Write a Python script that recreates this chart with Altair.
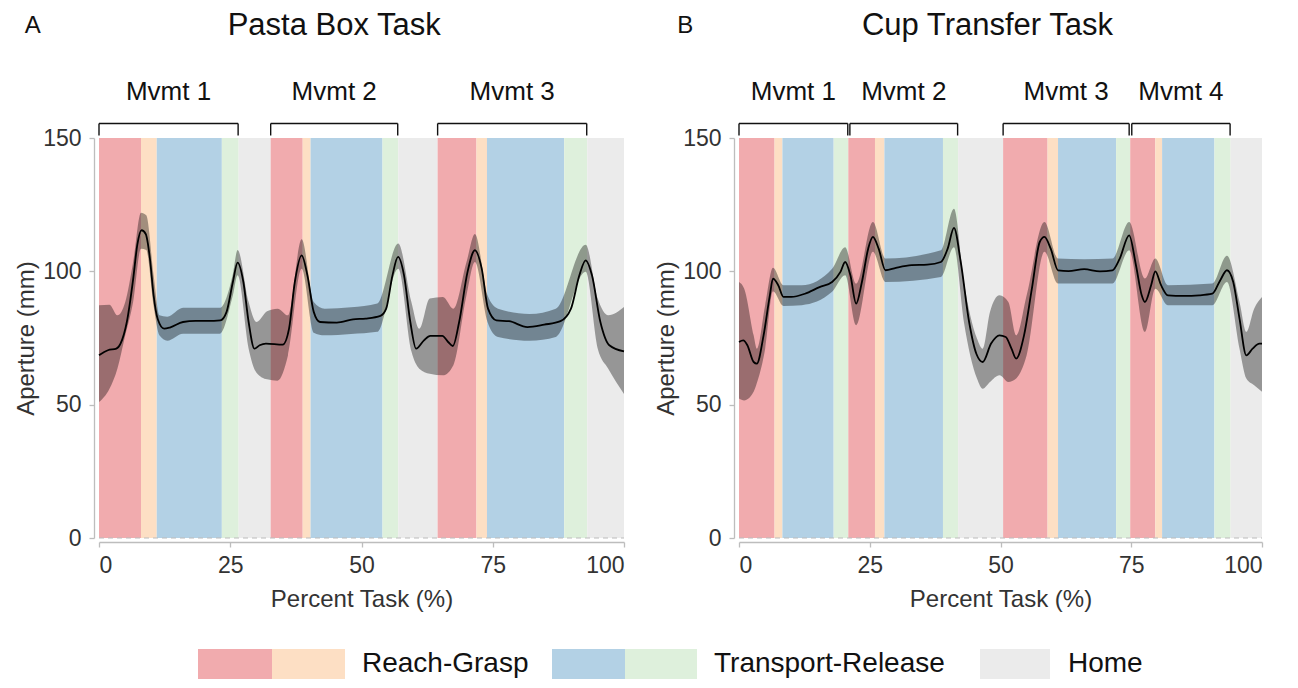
import altair as alt
import pandas as pd

# ---------------- data ----------------
PHASES = ["Reach", "Grasp", "Transport", "Release", "Home"]
PHASE_COLORS = ["#F1ABAE", "#FDDFC4", "#B3D1E5", "#DEF0DC", "#EBEBEB"]

# Panel A : Pasta Box Task
A_starts = [0, 8.0, 11.0, 23.4, 26.6, 32.7, 38.8, 40.3, 54.0, 57.0, 64.5, 71.9, 73.9, 88.6, 93.0]
A_types = ["Reach", "Grasp", "Transport", "Release", "Home",
           "Reach", "Grasp", "Transport", "Release", "Home",
           "Reach", "Grasp", "Transport", "Release", "Home"]
A_br_start = [0, 32.7, 64.5]
A_br_end = [26.5, 56.9, 92.9]
A_mvmt = ["Mvmt 1", "Mvmt 2", "Mvmt 3"]

A_mean_x = [0, 1.7, 3.3, 4.1, 5.3, 6.5, 7.3, 8.1, 8.9, 9.7, 10.4, 11.2, 12.4, 13.6, 16, 18.4, 20.7, 23.1,
            24.3, 25.5, 26.4, 27.5, 28.5, 29.6, 30.6, 31.8, 35, 36.2, 37.3, 38.6, 39.7, 40.9, 42.1, 45.3,
            48.4, 50.8, 53.6, 54.7, 55.9, 56.96, 58.1, 59.3, 60.4, 61.9, 63.1, 65.4, 66.5, 67.4, 68.6, 70.2,
            71.6, 72.9, 74.1, 75.7, 78.1, 81.6, 84.8, 87.9, 89.9, 91.5, 92.7, 93.9, 95.5, 97.2, 100]
A_mean_y = [68.5, 70.4, 71, 72.9, 81, 97, 110, 115.4, 114, 104.8, 91, 82, 78.5, 79, 81, 81.4, 81.4, 81.6,
            84.8, 96, 103.3, 96, 81, 71, 72.3, 72.9, 72.5, 78.5, 96, 106, 98.5, 84.8, 81, 80.8,
            82, 82.3, 83.3, 86, 98.5, 105.4, 98.5, 81, 71, 74.1, 75.8, 75.8, 73.5, 72, 81, 99.8,
            107.9, 101, 86, 81.6, 81.3, 79.1, 80, 81.3, 86, 98.5, 104.1, 98.5, 81, 72.3, 70]
A_band_x = [0, 2, 3.5, 5, 6.5, 8, 9, 10.4, 11.5, 13, 16, 20, 23, 25.5, 26.4, 28.5, 30, 32, 34, 36,
            38.6, 40.9, 43, 48, 53, 57, 59.5, 61, 63, 65.5, 67.5, 70, 71.6, 74, 76, 82, 87, 92.7, 95, 97, 100]
A_band_hi = [87.3, 87.5, 83.5, 88.5, 103.5, 122, 121, 98.5, 83.5, 83, 86.3, 86.3, 86.3, 99, 108, 88.5, 81, 85, 86, 83.5,
             112, 88.5, 86, 86.5, 87.9, 110.4, 88.5, 78.5, 89.8, 90.4, 86, 103.5, 114, 91, 86, 84, 86, 110, 89.8, 83.5, 86.6]
A_band_lo = [51, 56, 63.5, 76, 88.5, 108.5, 108, 87, 76, 74, 76.6, 76.6, 76.6, 91, 98.5, 71, 62, 59.5, 59, 68.5,
             101, 77, 76, 76.5, 77.3, 101, 70, 63.5, 61.6, 61, 64.8, 91, 103.5, 81, 75.4, 74, 75.4, 99.8, 71, 63.5, 54]

# Panel B : Cup Transfer Task
B_starts = [0, 6.8, 8.3, 18.1, 20.9, 26.0, 27.8, 39.0, 41.9, 50.5, 59.0, 61.0, 72.1, 74.8, 79.6, 80.9, 90.9, 94.0]
B_types = ["Reach", "Grasp", "Transport", "Release",
           "Reach", "Grasp", "Transport", "Release", "Home",
           "Reach", "Grasp", "Transport", "Release",
           "Reach", "Grasp", "Transport", "Release", "Home"]
B_br_start = [0, 21.2, 50.5, 75.1]
B_br_end = [20.8, 41.8, 74.6, 93.9]
B_mvmt = ["Mvmt 1", "Mvmt 2", "Mvmt 3", "Mvmt 4"]

B_mean_x = [0, 0.8, 1.6, 2.8, 3.4, 4.7, 5.9, 6.5, 7.5, 8.5, 10, 12.6, 15.4, 17.8, 19.4, 20.3, 21.3, 22.4, 23.5, 24.7,
            25.6, 26.7, 28, 30, 33, 36, 38.6, 39.9, 41.1, 42.4, 44, 45.4, 46.6, 48.2, 49.8, 51, 52.1, 53, 54.5, 56,
            57.5, 58.4, 59.6, 61, 63, 66, 69, 71.4, 72.8, 74.6, 75.9, 77, 77.6, 78.8, 79.6, 80.7, 82, 85, 88, 90.5,
            92, 93.3, 94.5, 95.7, 97, 98.2, 99.5, 100]
B_mean_y = [73.5, 74.1, 72.3, 66, 65.4, 76, 91, 97.3, 94.8, 90.4, 90.4, 91.6, 94.1, 96, 99.8, 103.5, 98.5, 87.9, 96, 108.5,
            112.9, 108.5, 100.4, 101.3, 102.3, 102.5, 103.5, 108.5, 116.3, 103.5, 81, 69, 66, 72.9, 76, 75.4, 71, 67.3, 76, 93.5,
            111, 112.9, 108.5, 100.4, 100.1, 100.8, 100, 100.4, 104.8, 113.5, 102.3, 91, 88.5, 94.8, 100, 94.8, 91, 90.8, 91, 91.6,
            96.6, 100.4, 96, 82.3, 68.5, 71, 72.9, 72.9]
B_band_x = [0, 1, 2.8, 3.4, 5, 6.5, 8.5, 12, 17.8, 20.3, 22.4, 25.6, 28, 38.6, 41.1, 43, 45.5, 46.6, 48, 49.8,
            51.5, 53, 55, 58.4, 61, 66, 71.4, 74.6, 77.6, 79.6, 82, 90.5, 93.3, 95.7, 97, 98.5, 100]
B_band_hi = [96, 93.5, 76, 71, 87.3, 101.3, 94.8, 94.8, 101, 109, 95.4, 118.5, 104.8, 107.9, 123.5, 96, 74.8, 71, 84.8, 91,
             88.5, 76, 91, 118.5, 104.8, 104.5, 104.8, 118.5, 97.3, 104.8, 94.8, 95.4, 105.8, 88.5, 77.3, 86, 90.4]
B_band_lo = [52.3, 51.6, 54.8, 58, 71, 92.5, 87, 87.3, 92.3, 98.5, 79.8, 107.3, 96, 97.9, 109, 81, 59.8, 56, 58.5, 61,
             58.5, 59.8, 68.5, 107.3, 95.4, 95.4, 95.4, 107.9, 77.3, 93.5, 87.3, 87.3, 96, 71, 59.8, 57.3, 54.8]

X_TICKS = [0, 25, 50, 75, 100]
Y_TICKS = [0, 50, 100, 150]

LEGEND_LABELS = ["Reach-Grasp", "Transport-Release", "Home"]

# ---------------- layout constants ----------------
FONT = "Liberation Sans"
PAD_LEFT = 6
PAD_TOP = 2
PLOT_H = 400
Y_MAX = 150
PX_PER_UNIT = PLOT_H / Y_MAX
BR_TOP = Y_MAX + 14.5 / PX_PER_UNIT
BR_BOT = Y_MAX + 2.5 / PX_PER_UNIT
MV_Y = Y_MAX + 46 / PX_PER_UNIT
TITLE_Y = Y_MAX + 112 / PX_PER_UNIT


def panel(letter, letter_x, title, title_x, starts, types, br_s, br_e, names,
          mx, my, bx, blo, bhi, width):
    xs = alt.Scale(domain=[0, 100], nice=False, zero=False)
    ys = alt.Scale(domain=[0, Y_MAX], nice=False)
    ends = starts[1:] + [100]
    ph = pd.DataFrame({"x": starts, "x2": ends, "phase": types,
                       "y0": [0] * len(starts), "y1": [Y_MAX] * len(starts)})
    rects = alt.Chart(ph).mark_rect().encode(
        x=alt.X("x:Q", scale=xs, title="Percent Task (%)",
                axis=alt.Axis(values=X_TICKS, offset=4, labelPadding=7, titlePadding=10)),
        x2="x2:Q",
        y=alt.Y("y0:Q", scale=ys, title="Aperture (mm)",
                axis=alt.Axis(values=Y_TICKS, offset=5, labelPadding=8, titlePadding=4)),
        y2="y1:Q",
        color=alt.Color("phase:N", scale=alt.Scale(domain=PHASES, range=PHASE_COLORS), legend=None),
    )
    band = alt.Chart(pd.DataFrame({"x": bx, "lo": blo, "hi": bhi})).mark_area(
        interpolate="monotone", color="#000000", opacity=0.36
    ).encode(x=alt.X("x:Q", scale=xs), y=alt.Y("lo:Q", scale=ys), y2="hi:Q")
    line = alt.Chart(pd.DataFrame({"x": mx, "y": my})).mark_line(
        interpolate="monotone", color="#000000", strokeWidth=1.8
    ).encode(x=alt.X("x:Q", scale=xs), y=alt.Y("y:Q", scale=ys))
    zero = alt.Chart(pd.DataFrame({"a": [0], "b": [100], "z": [0]})).mark_rule(
        color="#BBBBBB", strokeDash=[5, 4], strokeWidth=1.2
    ).encode(x=alt.X("a:Q", scale=xs), x2="b:Q", y=alt.Y("z:Q", scale=ys))

    br = pd.DataFrame({"s": br_s, "e": br_e, "name": names,
                       "mid": [(a + b) / 2 for a, b in zip(br_s, br_e)],
                       "top": [BR_TOP] * len(br_s), "bot": [BR_BOT] * len(br_s),
                       "mv": [MV_Y] * len(br_s)})
    bchart = alt.Chart(br)
    br_h = bchart.mark_rule(color="#111111", strokeWidth=1.4).encode(
        x=alt.X("s:Q", scale=xs), x2="e:Q", y=alt.Y("top:Q", scale=ys))
    br_l = bchart.mark_rule(color="#111111", strokeWidth=1.4).encode(
        x=alt.X("s:Q", scale=xs), y=alt.Y("bot:Q", scale=ys), y2="top:Q")
    br_r = bchart.mark_rule(color="#111111", strokeWidth=1.4).encode(
        x=alt.X("e:Q", scale=xs), y=alt.Y("bot:Q", scale=ys), y2="top:Q")
    mv = bchart.mark_text(fontSize=26, font=FONT, baseline="middle", color="#111111").encode(
        x=alt.X("mid:Q", scale=xs), y=alt.Y("mv:Q", scale=ys), text="name:N")

    tt = pd.DataFrame({"x": [letter_x, title_x], "y": [TITLE_Y, TITLE_Y],
                       "t": [letter, title], "s": [24, 31]})
    titles = alt.Chart(tt).mark_text(font=FONT, baseline="middle", color="#111111").encode(
        x=alt.X("x:Q", scale=xs), y=alt.Y("y:Q", scale=ys), text="t:N",
        size=alt.Size("s:Q", scale=None, legend=None))

    return alt.layer(rects, band, line, zero, br_h, br_l, br_r, mv, titles).properties(
        width=width, height=PLOT_H)


pa = panel("A", -12.6, "Pasta Box Task", 44.8, A_starts, A_types, A_br_start, A_br_end, A_mvmt,
           A_mean_x, A_mean_y, A_band_x, A_band_lo, A_band_hi, 525)
pb = panel("B", -10.3, "Cup Transfer Task", 47.5, B_starts, B_types, B_br_start, B_br_end, B_mvmt,
           B_mean_x, B_mean_y, B_band_x, B_band_lo, B_band_hi, 523)

# ---------------- custom legend ----------------
LEG_W = 1140
LEG_H = 30
LEG_ORIGIN = 99  # legend origin is aligned with the left panel's plot area
box_left = [198, 272, 552, 625, 980]
box_right = [272, 345, 625, 697, 1050]
box_phase = ["Reach", "Grasp", "Transport", "Release", "Home"]
txt_left = [362, 714, 1068]

lx = alt.Scale(domain=[0, LEG_W], nice=False, zero=False)
ly = alt.Scale(domain=[0, 1], nice=False)
lb = pd.DataFrame({"a": [v - LEG_ORIGIN for v in box_left], "b": [v - LEG_ORIGIN for v in box_right],
                   "p": box_phase, "y0": [0] * 5, "y1": [1] * 5})
leg_boxes = alt.Chart(lb).mark_rect().encode(
    x=alt.X("a:Q", scale=lx, axis=None), x2="b:Q",
    y=alt.Y("y0:Q", scale=ly, axis=None), y2="y1:Q",
    color=alt.Color("p:N", scale=alt.Scale(domain=PHASES, range=PHASE_COLORS), legend=None))
lt = pd.DataFrame({"x": [v - LEG_ORIGIN for v in txt_left], "t": LEGEND_LABELS, "y": [0.5] * 3})
leg_text = alt.Chart(lt).mark_text(font=FONT, fontSize=28, align="left", baseline="middle",
                                   color="#111111").encode(
    x=alt.X("x:Q", scale=lx, axis=None), y=alt.Y("y:Q", scale=ly, axis=None), text="t:N")
legend = alt.layer(leg_boxes, leg_text).properties(width=LEG_W, height=LEG_H)

chart = alt.vconcat(
    alt.hconcat(pa, pb, spacing=26),
    legend,
    spacing=38,
).properties(
    padding={"left": PAD_LEFT, "top": PAD_TOP, "right": 0, "bottom": 0}
).configure_view(stroke=None).configure_axis(
    grid=False, domainColor="#BDBDBD", tickColor="#BDBDBD", domainWidth=1.3, tickWidth=1.3,
    tickSize=5, labelFont=FONT, titleFont=FONT, labelFontSize=23, titleFontSize=24,
    titleFontWeight="normal", labelColor="#333333", titleColor="#333333"
).configure_concat(spacing=0)

chart.save("out.html", embed_options={"renderer": "svg", "actions": False})
